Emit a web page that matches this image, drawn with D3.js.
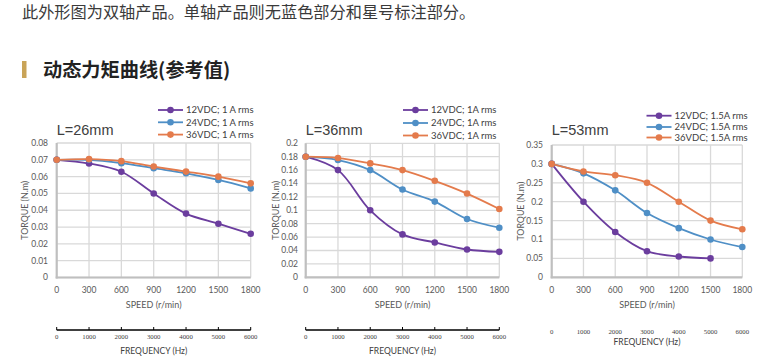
<!DOCTYPE html>
<html><head><meta charset="utf-8">
<script src="https://cdn.jsdelivr.net/npm/d3@7"></script>
<style>
body{margin:0;background:#fff;}
svg{display:block;}
</style></head>
<body><svg id="c" width="775" height="359"></svg>
<script>
// ---- data ----
const speeds = [0, 300, 600, 900, 1200, 1500, 1800];
const freqTicks = [0, 1000, 2000, 3000, 4000, 5000, 6000];

const titles = ["L=26mm", "L=36mm", "L=53mm"];
const legend26 = ["12VDC; 1 A rms", "24VDC; 1 A rms", "36VDC; 1 A rms"];
const legend36 = ["12VDC; 1A rms", "24VDC; 1A rms", "36VDC; 1A rms"];
const legend53 = ["12VDC; 1.5A rms", "24VDC; 1.5A rms", "36VDC; 1.5A rms"];

const l26_12 = [0.070, 0.0678, 0.0629, 0.050, 0.038, 0.032, 0.026];
const l26_24 = [0.070, 0.0700, 0.0680, 0.065, 0.062, 0.058, 0.053];
const l26_36 = [0.070, 0.0704, 0.0692, 0.066, 0.063, 0.060, 0.056];

const l36_12 = [0.180, 0.160, 0.100, 0.064, 0.052, 0.0415, 0.038];
const l36_24 = [0.180, 0.175, 0.160, 0.131, 0.113, 0.087, 0.074];
const l36_36 = [0.180, 0.178, 0.170, 0.160, 0.144, 0.125, 0.102];

const l53_12 = [0.300, 0.200, 0.120, 0.069, 0.055, 0.050];
const l53_24 = [0.300, 0.275, 0.230, 0.170, 0.130, 0.100, 0.080];
const l53_36 = [0.300, 0.280, 0.270, 0.250, 0.200, 0.150, 0.127];

const yTicks26 = [0, 0.01, 0.02, 0.03, 0.04, 0.05, 0.06, 0.07, 0.08];
const yTicks36 = [0, 0.02, 0.04, 0.06, 0.08, 0.1, 0.12, 0.14, 0.16, 0.18, 0.2];
const yTicks53 = [0, 0.05, 0.1, 0.15, 0.2, 0.25, 0.3, 0.35];

const seriesColors = ["#6b3d9e", "#4f8fc6", "#e47b4c"];

// ---- drawing ----
const svg = d3.select("#c");
const cjk = "'Noto Sans CJK SC', sans-serif";
const lat = "Lato, 'Open Sans', sans-serif";

svg.append("text").attr("x", 22).attr("y", 18).attr("font-family", cjk)
  .attr("font-size", 16.2).attr("fill", "#3a3a3a")
  .text("此外形图为双轴产品。单轴产品则无蓝色部分和星号标注部分。");
svg.append("rect").attr("x", 22).attr("y", 61).attr("width", 4.5).attr("height", 17).attr("fill", "#c9a458");
svg.append("text").attr("x", 43).attr("y", 76.5).attr("font-family", cjk)
  .attr("font-size", 19.2).attr("font-weight", "bold").attr("fill", "#222")
  .text("动态力矩曲线(参考值)");

const charts = [
  {title: titles[0], legend: legend26, series: [l26_12, l26_24, l26_36], yTicks: yTicks26,
   x0: 56.7, x1: 250.7, yTop: 143, yBot: 277.5, ylabX: 48, torqueX: 25,
   legX: 158, legY: [110, 122.3, 134.6], freqLine: true, freqLineY: 330, freqLabY: 337, freqTitleY: 351},
  {title: titles[1], legend: legend36, series: [l36_12, l36_24, l36_36], yTicks: yTicks36,
   x0: 305.7, x1: 499.3, yTop: 143.3, yBot: 277.3, ylabX: 298, torqueX: 276,
   legX: 403, legY: [110, 123, 135.5], freqLine: true, freqLineY: 330, freqLabY: 337, freqTitleY: 351},
  {title: titles[2], legend: legend53, series: [l53_12, l53_24, l53_36], yTicks: yTicks53,
   x0: 551.7, x1: 742.3, yTop: 145, yBot: 277.3, ylabX: 543, torqueX: 521,
   legX: 646.5, legY: [115.7, 127, 137.5], freqLine: false, freqLineY: 326, freqLabY: 331.5, freqTitleY: 342}
];

charts.forEach(c => {
  const g = svg.append("g");
  const x = d3.scaleLinear().domain([0, 1800]).range([c.x0, c.x1]);
  const ymax = c.yTicks[c.yTicks.length - 1];
  const y = d3.scaleLinear().domain([0, ymax]).range([c.yBot, c.yTop]);

  // gridlines
  g.selectAll(".hg").data(c.yTicks).join("line")
    .attr("x1", c.x0).attr("x2", c.x1).attr("y1", d => y(d)).attr("y2", d => y(d))
    .attr("stroke", "#d9d9d9").attr("stroke-width", 1.3);
  g.selectAll(".vg").data(speeds).join("line")
    .attr("x1", d => x(d)).attr("x2", d => x(d)).attr("y1", c.yTop).attr("y2", c.yBot)
    .attr("stroke", "#d9d9d9").attr("stroke-width", 1.3);
  // axes lines
  g.append("line").attr("x1", c.x0).attr("x2", c.x0).attr("y1", c.yTop).attr("y2", c.yBot + 1)
    .attr("stroke", "#bfbfbf").attr("stroke-width", 2.2);
  g.append("line").attr("x1", c.x0 - 1).attr("x2", c.x1).attr("y1", c.yBot).attr("y2", c.yBot)
    .attr("stroke", "#bfbfbf").attr("stroke-width", 2.2);

  // y tick labels
  g.selectAll(".yl").data(c.yTicks).join("text")
    .attr("x", c.ylabX).attr("y", d => y(d)).attr("dy", "0.35em")
    .attr("text-anchor", "end").attr("font-family", lat).attr("font-size", 8.5)
    .attr("fill", "#595959").text(d => d3.format("~g")(d));
  // x tick labels
  g.selectAll(".xl").data(speeds).join("text")
    .attr("x", d => x(d)).attr("y", 290).attr("dy", "0.35em")
    .attr("text-anchor", "middle").attr("font-family", lat).attr("font-size", 8.5)
    .attr("fill", "#595959").text(d => d);
  g.append("text").attr("x", (c.x0 + c.x1) / 2).attr("y", 305).attr("dy", "0.35em")
    .attr("text-anchor", "middle").attr("font-family", lat).attr("font-size", 9)
    .attr("fill", "#595959").text("SPEED (r/min)");
  g.append("text").attr("transform", `translate(${c.torqueX},${(c.yTop + c.yBot) / 2}) rotate(-90)`)
    .attr("dy", "0.35em").attr("text-anchor", "middle").attr("font-family", lat).attr("font-size", 8.8)
    .attr("fill", "#595959").text("TORQUE (N.m)");

  // title
  g.append("text").attr("x", c.x0).attr("y", 134.5).attr("font-family", "'Liberation Sans', Arial, sans-serif")
    .attr("font-size", 14.5).attr("fill", "#404040").text(c.title);

  // series
  const line = d3.line().x((d, i) => x(speeds[i])).y(d => y(d)).curve(d3.curveCatmullRom.alpha(0.5));
  c.series.forEach((s, k) => {
    g.append("path").datum(s).attr("d", line).attr("fill", "none")
      .attr("stroke", seriesColors[k]).attr("stroke-width", 1.8);
  });
  c.series.forEach((s, k) => {
    g.selectAll(null).data(s).join("circle")
      .attr("cx", (d, i) => x(speeds[i])).attr("cy", d => y(d)).attr("r", 3.3)
      .attr("fill", seriesColors[k]);
  });

  // legend
  c.legend.forEach((t, k) => {
    const ly = c.legY[k];
    g.append("line").attr("x1", c.legX).attr("x2", c.legX + 25).attr("y1", ly).attr("y2", ly)
      .attr("stroke", seriesColors[k]).attr("stroke-width", 1.8);
    g.append("circle").attr("cx", c.legX + 12.5).attr("cy", ly).attr("r", 3.3).attr("fill", seriesColors[k]);
    g.append("text").attr("x", c.legX + 28).attr("y", ly).attr("dy", "0.35em")
      .attr("font-family", lat).attr("font-size", 9.5).attr("fill", "#404040").text(t);
  });

  // frequency axis
  const fx = d3.scaleLinear().domain([0, 6000]).range([c.x0, c.x1]);
  const fg = g.append("g").attr("transform", `translate(0,${c.freqLineY})`);
  if (c.freqLine) {
    fg.append("line").attr("x1", c.x0).attr("x2", c.x1).attr("stroke", "#000").attr("stroke-width", 1.3);
    fg.selectAll(".ft").data(freqTicks).join("line")
      .attr("x1", d => fx(d)).attr("x2", d => fx(d)).attr("y1", 0).attr("y2", -3)
      .attr("stroke", "#000").attr("stroke-width", 1);
  }
  g.selectAll(".fl").data(freqTicks).join("text")
    .attr("x", d => fx(d)).attr("y", c.freqLabY).attr("dy", "0.35em")
    .attr("text-anchor", "middle").attr("font-family", "'Liberation Serif', serif").attr("font-size", 6.8)
    .attr("fill", "#404040").text(d => d);
  g.append("text").attr("x", (c.x0 + c.x1) / 2).attr("y", c.freqTitleY).attr("dy", "0.35em")
    .attr("text-anchor", "middle").attr("font-family", lat).attr("font-size", 8.5)
    .attr("fill", "#404040").text("FREQUENCY (Hz)");
});
</script></body></html>
